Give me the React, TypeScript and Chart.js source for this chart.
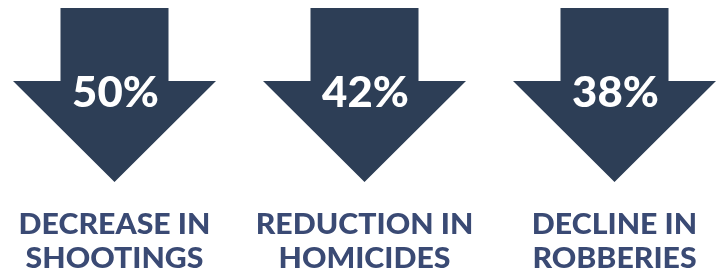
import React, { useEffect, useRef } from "react";
import { Chart, registerables } from "chart.js";

Chart.register(...registerables);

const categories = ["Shootings", "Homicides", "Robberies"];
const percentValues = [50, 42, 38];
const labelLine1 = ["DECREASE IN", "REDUCTION IN", "DECLINE IN"];
const labelLine2 = ["SHOOTINGS", "HOMICIDES", "ROBBERIES"];
const positions = [0, 1, 2];

const ARROW_COLOR = "#2d3e56";
const LABEL_COLOR = "#3a4a74";

function stretchedText(ctx: any, text: string, cx: number, y: number, sx: number) {
  ctx.save();
  ctx.translate(cx, y);
  ctx.scale(sx, 1);
  ctx.fillText(text, 0, 0);
  ctx.restore();
}

const arrowPlugin = {
  id: "arrowPlugin",
  afterDatasetsDraw(chart: any) {
    const ctx = chart.ctx;
    const xs = chart.scales.x;
    const top = chart.chartArea.top;
    const shaftTop = top + 8;
    const headTop = top + 81;
    const tipY = top + 182;
    const shaftHalf = 54;
    const headHalf = 101.5;
    ctx.save();
    positions.forEach((p, i) => {
      const cx = xs.getPixelForValue(p);
      ctx.beginPath();
      ctx.moveTo(cx - shaftHalf, shaftTop);
      ctx.lineTo(cx + shaftHalf, shaftTop);
      ctx.lineTo(cx + shaftHalf, headTop);
      ctx.lineTo(cx + headHalf, headTop);
      ctx.lineTo(cx, tipY);
      ctx.lineTo(cx - headHalf, headTop);
      ctx.lineTo(cx - shaftHalf, headTop);
      ctx.closePath();
      ctx.fillStyle = ARROW_COLOR;
      ctx.fill();

      ctx.textAlign = "center";
      ctx.textBaseline = "alphabetic";
      ctx.fillStyle = "#ffffff";
      ctx.font = "900 42px Lato";
      stretchedText(ctx, percentValues[i] + "%", cx + 1, top + 107, 1.04);

      ctx.fillStyle = LABEL_COLOR;
      ctx.font = "900 28px Lato";
      stretchedText(ctx, labelLine1[i], cx, top + 234, 1.08);
      stretchedText(ctx, labelLine2[i], cx, top + 268, 1.08);
    });
    ctx.restore();
  },
};

export default function App() {
  const ref = useRef<HTMLCanvasElement | null>(null);
  useEffect(() => {
    document.body.style.margin = "0";
    const chart = new Chart(ref.current as HTMLCanvasElement, {
      type: "scatter",
      data: {
        datasets: [
          {
            label: "Change",
            data: positions.map((p, i) => ({ x: p, y: percentValues[i] })),
            pointRadius: 0,
            showLine: false,
          },
        ],
      },
      options: {
        animation: false,
        responsive: true,
        maintainAspectRatio: false,
        layout: { padding: 0 },
        plugins: { legend: { display: false }, tooltip: { enabled: false } },
        scales: {
          x: { type: "linear", display: false, min: -0.458, max: 2.414 },
          y: { type: "linear", display: false, min: 0, max: 100 },
        },
      },
      plugins: [arrowPlugin],
    });
    return () => chart.destroy();
  }, []);
  return (
    <div style={{ width: 718, height: 274, position: "relative", background: "#ffffff" }}>
      <canvas ref={ref} aria-label={categories.join(", ")} />
    </div>
  );
}
